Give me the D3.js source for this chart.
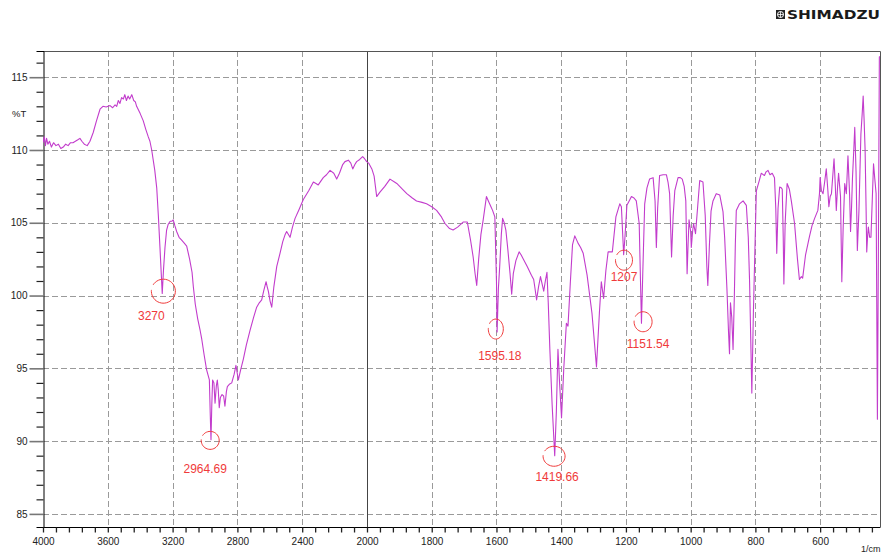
<!DOCTYPE html>
<html>
<head>
<meta charset="utf-8">
<script src="https://cdn.jsdelivr.net/npm/d3@7"></script>
<style>
  html, body { margin: 0; padding: 0; background: #fff; }
  svg { display: block; font-family: "Liberation Sans", Arial, sans-serif; }
</style>
</head>
<body>
<div id="chart"></div>
<script>
// IR spectrum, wavenumber (1/cm) vs %T
const wavenumbers = [
  4000, 3992, 3985, 3978, 3970, 3960, 3948, 3935, 3920, 3905, 3890, 3875, 3860, 3845, 3830, 3815,
  3800, 3785, 3772, 3760, 3745, 3727, 3710, 3690, 3670, 3648, 3630, 3610, 3586, 3570, 3555, 3545,
  3535, 3525, 3515, 3504, 3495, 3485, 3475, 3465, 3452, 3440, 3430, 3422, 3400, 3381, 3365, 3350,
  3340, 3329, 3310, 3298, 3288, 3278, 3270, 3264, 3256, 3247, 3237, 3227, 3215, 3205, 3196, 3186,
  3175, 3160, 3144, 3128, 3113, 3095, 3080, 3072, 3060, 3045, 3030, 3020, 3005, 2990, 2973, 2968,
  2963, 2958, 2953, 2945, 2938, 2930, 2924, 2918, 2912, 2905, 2895, 2885, 2877, 2868, 2862, 2850,
  2835, 2820, 2809, 2800, 2794, 2780, 2764, 2745, 2722, 2700, 2681, 2665, 2650, 2638, 2623, 2616,
  2609, 2598, 2588, 2575, 2557, 2537, 2520, 2505, 2496, 2485, 2475, 2460, 2444, 2420, 2393, 2360,
  2331, 2315, 2301, 2270, 2250, 2228, 2205, 2187, 2170, 2150, 2136, 2115, 2100, 2088, 2075, 2064,
  2045, 2027, 2015, 2002, 1995, 1985, 1978, 1970, 1960, 1945, 1929, 1915, 1908, 1890, 1877, 1860,
  1847, 1830, 1816, 1800, 1785, 1770, 1759, 1745, 1734, 1720, 1703, 1690, 1680, 1672, 1666, 1661,
  1655, 1648, 1641, 1631, 1625, 1617, 1612, 1605, 1600, 1598, 1594, 1590, 1585, 1581, 1576, 1571,
  1565, 1558, 1553, 1548, 1540, 1530, 1524, 1518, 1505, 1492, 1485, 1481, 1476, 1470, 1464, 1459,
  1454, 1449, 1444, 1440, 1435, 1428, 1420, 1415, 1410, 1405, 1399, 1392, 1384, 1379, 1372, 1365,
  1358, 1348, 1340, 1332, 1320, 1305, 1291, 1282, 1276, 1269, 1262, 1255, 1242, 1231, 1219, 1214,
  1207, 1203, 1197, 1190, 1183, 1175, 1168, 1159, 1155, 1152, 1148, 1142, 1135, 1127, 1116, 1110,
  1106, 1102, 1096, 1085, 1075, 1070, 1065, 1059, 1054, 1049, 1039, 1032, 1026, 1020, 1015, 1011,
  1008, 1005, 1000, 998, 994, 991, 985, 978, 972, 962, 955, 950, 947, 942, 937, 931,
  921, 910, 900, 895, 888, 883, 880, 877, 873, 869, 865, 862, 859, 849, 838, 828,
  822, 818, 811, 806, 800, 797, 788, 782, 772, 767, 761, 755, 748, 741, 737, 734,
  730, 725, 720, 717, 714, 712, 708, 702, 695, 689, 679, 670, 664, 658, 654, 645,
  633, 625, 617, 607, 602, 600, 596, 591, 586, 581, 576, 573, 569, 565, 561, 557,
  553, 550, 546, 543, 540, 537, 533, 529, 524, 519, 514, 509, 506, 503, 500, 496,
  493, 489, 485, 480, 477, 474, 470, 467, 464, 461, 458, 456, 453, 451, 447, 443,
  439, 435, 431, 427, 423, 420, 417, 415
];
const transmittance = [
  110.5, 110.9, 110.3, 110.8, 110.4, 110.6, 110.2, 110.5, 110.3, 110.4, 110.1, 110.2, 110.4, 110.3, 110.5, 110.5,
  110.6, 110.7, 110.8, 110.6, 110.4, 110.3, 110.6, 111.2, 112.0, 112.8, 113.0, 112.95, 113.05, 112.9, 113.1, 113.0,
  113.4, 113.2, 113.6, 113.5, 113.8, 113.4, 113.7, 113.5, 113.8, 113.4, 113.3, 113.0, 112.5, 112.0, 111.4, 110.9,
  110.6, 110.0, 108.6, 107.4, 105.5, 103.3, 101.5, 100.15, 101.8, 103.3, 104.5, 104.9, 105.1, 105.1, 105.2, 104.8,
  104.4, 104.0, 103.8, 103.6, 103.4, 102.5, 101.6, 100.6, 99.4, 98.4, 97.6, 97.0, 95.9, 94.9, 94.2, 92.0,
  90.1, 92.5, 94.2, 94.0, 92.6, 93.8, 94.2, 93.5, 92.3, 93.0, 93.2, 93.1, 92.4, 93.4, 93.75, 93.9,
  94.0, 94.6, 95.2, 94.6, 94.2, 94.9, 95.6, 96.6, 97.6, 98.5, 99.2, 99.5, 99.7, 100.3, 100.95, 100.6,
  100.3, 99.6, 99.2, 100.6, 102.0, 102.9, 103.7, 104.2, 104.4, 104.2, 104.0, 104.7, 105.3, 105.9, 106.6, 107.2,
  107.8, 107.7, 107.6, 108.1, 108.3, 108.6, 108.4, 108.0, 108.4, 109.0, 109.2, 109.3, 109.1, 108.7, 109.0, 109.2,
  109.35, 109.55, 109.4, 109.2, 109.1, 108.7, 108.2, 106.8, 107.1, 107.5, 108.0, 107.8, 107.7, 107.3, 107.0, 106.7,
  106.5, 106.4, 106.3, 106.1, 105.85, 105.4, 104.95, 104.6, 104.5, 104.7, 105.05, 105.05, 103.8, 102.65, 101.5, 100.7,
  102.5, 104.2, 105.2, 106.8, 106.5, 106.1, 105.85, 105.4, 101.0, 97.5, 100.5, 102.0, 104.2, 105.3, 105.0, 104.5,
  103.2, 101.5, 100.1, 101.5, 102.4, 103.0, 102.8, 102.55, 102.0, 101.4, 101.1, 100.5, 99.7, 100.6, 101.3, 100.8,
  100.3, 101.0, 101.6, 99.5, 96.3, 92.5, 89.0, 92.0, 96.3, 94.0, 91.6, 95.0, 98.1, 97.9, 100.8, 103.5,
  104.1, 103.6, 103.3, 102.9, 101.4, 98.8, 95.1, 98.8, 100.95, 99.8, 101.7, 103.0, 103.0, 105.4, 106.3, 106.1,
  102.8, 104.0, 106.2, 106.5, 106.8, 106.7, 106.5, 104.95, 101.0, 98.1, 101.5, 106.3, 107.4, 108.0, 108.1, 106.5,
  103.3, 106.0, 108.25, 108.3, 108.3, 107.8, 107.0, 102.65, 105.5, 107.2, 108.1, 108.1, 108.0, 107.5, 106.5, 101.5,
  103.5, 105.2, 104.4, 103.3, 104.4, 104.95, 104.25, 106.2, 107.9, 107.8, 105.5, 102.0, 100.7, 103.5, 105.8, 106.5,
  107.0, 106.9, 105.75, 104.0, 100.5, 97.5, 96.0, 99.5, 98.5, 96.3, 100.0, 103.5, 105.85, 106.3, 106.5, 106.2,
  104.0, 101.0, 93.3, 99.0, 104.5, 107.2, 107.9, 108.4, 108.25, 108.5, 108.6, 108.3, 108.4, 108.1, 106.0, 102.9,
  106.0, 107.45, 107.4, 107.3, 104.0, 100.8, 105.0, 107.7, 107.3, 106.5, 104.95, 102.5, 101.1, 101.3, 101.2, 102.8,
  104.05, 104.8, 105.3, 105.85, 107.0, 108.1, 107.2, 107.0, 107.8, 108.7, 107.2, 106.1, 106.8, 107.0, 108.2, 109.4,
  107.5, 105.85, 107.5, 108.4, 107.6, 106.8, 100.95, 104.5, 107.7, 107.0, 109.6, 107.0, 104.4, 106.0, 108.1, 110.0,
  111.55, 108.5, 103.1, 105.85, 108.5, 111.1, 112.5, 113.7, 112.0, 110.0, 106.0, 103.0, 104.2, 104.7, 104.0, 104.0,
  106.5, 109.05, 108.0, 107.0, 91.5, 103.0, 116.4, 116.4
];

// marked peaks: label text, where the circle sits (wavenumber, %T)
const peakLabels = ['3270', '2964.69', '1595.18', '1419.66', '1207', '1151.54'];
const peakWn = [3257, 2968, 1602, 1422, 1206, 1147];
const peakT = [100.3, 90.05, 97.7, 88.96, 102.43, 98.2];

const yMajorTicks = [85, 90, 95, 100, 105, 110, 115];
const xMajorTicks = [4000, 3600, 3200, 2800, 2400, 2000, 1800, 1600, 1400, 1200, 1000, 800, 600];

const width = 882;
const height = 554;
const plotLeft = 43, plotRight = 880, plotTop = 51, plotBottom = 527;

const x = d3.scaleLinear()
  .domain([4000, 2000, 415])
  .range([plotLeft, 367, plotRight]);
const y = d3.scaleLinear()
  .domain([84.1, 116.8])
  .range([plotBottom, plotTop]);

const svg = d3.select('#chart')
  .append('svg')
    .attr('width', width)
    .attr('height', height);

// logo
const logo = svg.append('g');
logo.append('rect')
  .attr('x', 776).attr('y', 10).attr('width', 9).attr('height', 9)
  .attr('fill', '#222');
logo.append('circle')
  .attr('cx', 780.5).attr('cy', 14.5).attr('r', 3)
  .attr('fill', 'none').attr('stroke', '#fff').attr('stroke-width', 1);
logo.append('path')
  .attr('d', 'M777.5,14.5H783.5M780.5,11.5V17.5')
  .attr('stroke', '#fff').attr('stroke-width', 0.8);
logo.append('text')
  .attr('x', 787).attr('y', 19.3)
  .attr('font-family', '"DejaVu Sans", sans-serif')
  .attr('font-weight', 'bold')
  .attr('font-size', 12.5)
  .attr('textLength', 93)
  .attr('lengthAdjust', 'spacingAndGlyphs')
  .attr('fill', '#1a1a1a')
  .text('SHIMADZU');

// grid
const grid = svg.append('g')
  .attr('stroke', '#9a9a9a')
  .attr('stroke-width', 1)
  .attr('stroke-dasharray', '6,3');
grid.selectAll('line.h')
  .data(yMajorTicks)
  .enter()
    .append('line')
      .attr('x1', plotLeft).attr('x2', plotRight)
      .attr('y1', d => Math.round(y(d)) + 0.5)
      .attr('y2', d => Math.round(y(d)) + 0.5);
grid.selectAll('line.v')
  .data(xMajorTicks.filter(d => d !== 4000 && d !== 2000))
  .enter()
    .append('line')
      .attr('y1', plotTop).attr('y2', plotBottom)
      .attr('x1', d => Math.round(x(d)) + 0.5)
      .attr('x2', d => Math.round(x(d)) + 0.5);

// solid line at the 2000 scale change
svg.append('line')
  .attr('x1', Math.round(x(2000)) + 0.5).attr('x2', Math.round(x(2000)) + 0.5)
  .attr('y1', plotTop).attr('y2', plotBottom)
  .attr('stroke', '#444');

// frame: top and right in grey, left and bottom black
svg.append('path')
  .attr('d', `M${plotLeft},${plotTop + 0.5}H${plotRight + 0.5}V${plotBottom}`)
  .attr('fill', 'none')
  .attr('stroke', '#555');

// y axis with minor ticks
const yAxis = d3.axisLeft(y)
  .tickValues(d3.range(85, 117, 1))
  .tickSize(7)
  .tickFormat(d => (d % 5 === 0 ? d : ''));
const gy = svg.append('g')
  .attr('transform', `translate(${plotLeft + 0.5},0)`)
  .call(yAxis);
gy.select('.domain').attr('stroke', '#000');
gy.selectAll('.tick line')
  .attr('stroke', d => (d % 5 === 0 ? '#777' : '#222'))
  .attr('stroke-width', d => (d % 5 === 0 ? 1.6 : 1.2))
  .attr('x2', d => (d % 5 === 0 ? -14 : -7));
gy.selectAll('.tick text')
  .attr('x', -16)
  .attr('font-size', 10)
  .attr('font-family', '"Liberation Sans", Arial, sans-serif')
  .attr('fill', '#222');

svg.append('text')
  .attr('x', 12).attr('y', 117)
  .attr('font-size', 9.5)
  .attr('fill', '#222')
  .text('%T');

// x axis with minor ticks (every 80 above 2000, every 40 below)
const xMinor = d3.range(4000, 2000, -80).concat(d3.range(2000, 415, -40));
const xAxis = d3.axisBottom(x)
  .tickValues(xMinor)
  .tickSize(5)
  .tickFormat(d => (xMajorTicks.includes(d) ? d : ''));
const gx = svg.append('g')
  .attr('transform', `translate(0,${plotBottom + 0.5})`)
  .call(xAxis);
gx.select('.domain').attr('stroke', '#000').attr('d', `M${plotLeft},0H${plotRight + 0.5}`);
gx.selectAll('.tick line').attr('stroke', '#222').attr('stroke-width', 1.3);
gx.selectAll('.tick text')
  .attr('y', 10)
  .attr('font-size', 10)
  .attr('font-family', '"Liberation Sans", Arial, sans-serif')
  .attr('fill', '#222');

svg.append('text')
  .attr('x', 861).attr('y', 552)
  .attr('font-size', 9)
  .attr('fill', '#222')
  .text('1/cm');

// spectrum
svg.append('clipPath')
  .attr('id', 'plot-clip')
  .append('rect')
    .attr('x', plotLeft).attr('y', plotTop)
    .attr('width', plotRight - plotLeft + 1).attr('height', plotBottom - plotTop);

const points = wavenumbers.map((w, i) => [w, transmittance[i]]);
const line = d3.line()
  .x(d => x(d[0]))
  .y(d => y(d[1]));

svg.append('path')
  .datum(points)
  .attr('clip-path', 'url(#plot-clip)')
  .attr('fill', 'none')
  .attr('stroke', '#c23ccc')
  .attr('stroke-width', 1.1)
  .attr('stroke-linejoin', 'round')
  .attr('d', line);

// hand-drawn style peak marks
const markRx = [12, 9, 7.5, 11, 8.5, 9];
const markRy = [12, 9, 10, 10, 10, 10];
const labelDx = [-12, -5, 4, 3, 0, 5];
const labelDy = [29, 33, 31, 25, 21, 26];

const marks = svg.append('g')
  .selectAll('g')
  .data(peakLabels)
  .enter()
    .append('g')
      .attr('transform', (d, i) => `translate(${x(peakWn[i])},${y(peakT[i])})`);

marks.append('path')
  .attr('fill', 'none')
  .attr('stroke', '#f03a3a')
  .attr('stroke-width', 1)
  .attr('d', (d, i) => {
    const rx = markRx[i], ry = markRy[i];
    const a0 = -2.6, a1 = a0 + Math.PI * 2 - 0.35;
    const pts = d3.range(a0, a1, 0.15).map(a => [rx * Math.cos(a), ry * Math.sin(a)]);
    return d3.line().curve(d3.curveCatmullRom)(pts);
  });

marks.append('text')
  .attr('x', (d, i) => labelDx[i])
  .attr('y', (d, i) => labelDy[i])
  .attr('text-anchor', 'middle')
  .attr('font-size', 12)
  .attr('font-family', '"Liberation Sans", Arial, sans-serif')
  .attr('fill', '#f03a3a')
  .text(d => d);
</script>
</body>
</html>
